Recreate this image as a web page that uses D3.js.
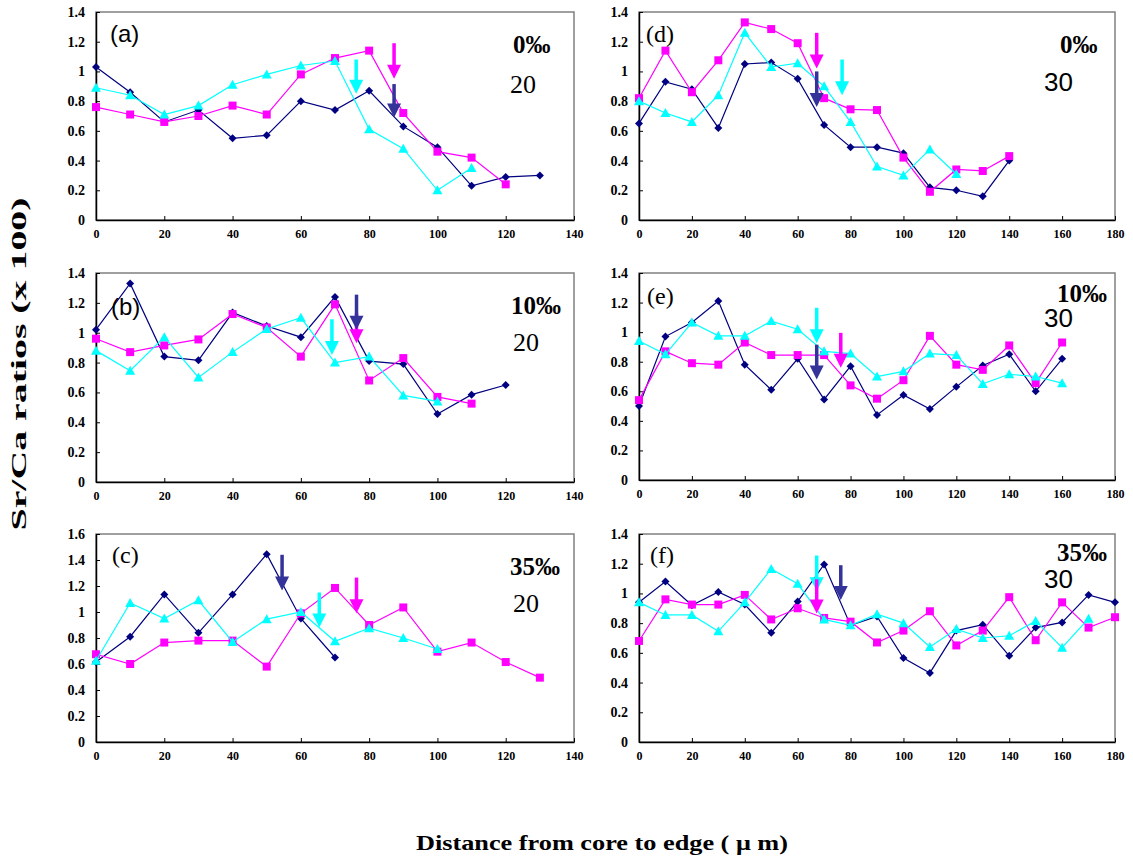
<!DOCTYPE html>
<html>
<head>
<meta charset="utf-8">
<script src="https://cdn.jsdelivr.net/npm/d3@7/dist/d3.min.js"></script>
<style>
  body { margin: 0; background: #fff; }
</style>
</head>
<body>
<script>
// distances along the otolith (um), shared by all panels
var distances = [0, 10, 20, 30, 40, 50, 60, 70, 80, 90, 100, 110, 120, 130, 140, 150, 160, 170, 180];
var xTicks140 = [0, 20, 40, 60, 80, 100, 120, 140];
var xTicks180 = [0, 20, 40, 60, 80, 100, 120, 140, 160, 180];
var yTicks14 = [0, 0.2, 0.4, 0.6, 0.8, 1, 1.2, 1.4];
var yTicks16 = [0, 0.2, 0.4, 0.6, 0.8, 1, 1.2, 1.4, 1.6];

// Sr/Ca (x100), three fish per panel
var aNavy    = [1.03, 0.86, 0.66, 0.74, 0.55, 0.57, 0.80, 0.74, 0.87, 0.63, 0.49, 0.23, 0.29, 0.30];
var aMagenta = [0.76, 0.71, 0.66, 0.70, 0.77, 0.71, 0.98, 1.09, 1.14, 0.72, 0.46, 0.42, 0.24];
var aCyan    = [0.89, 0.84, 0.71, 0.77, 0.91, 0.98, 1.04, 1.07, 0.61, 0.48, 0.20, 0.35];

var bNavy    = [1.02, 1.33, 0.84, 0.815, 1.135, 1.045, 0.97, 1.24, 0.81, 0.79, 0.455, 0.585, 0.65];
var bMagenta = [0.96, 0.87, 0.915, 0.955, 1.125, 1.035, 0.84, 1.19, 0.68, 0.83, 0.57, 0.525];
var bCyan    = [0.88, 0.745, 0.97, 0.70, 0.87, 1.025, 1.10, 0.80, 0.84, 0.58, 0.54];

var cNavy    = [0.615, 0.81, 1.135, 0.84, 1.135, 1.445, 0.95, 0.65];
var cMagenta = [0.675, 0.60, 0.765, 0.78, 0.78, 0.58, 0.99, 1.185, 0.90, 1.035, 0.695, 0.765, 0.615, 0.495];
var cCyan    = [0.625, 1.07, 0.95, 1.09, 0.77, 0.945, 1.0, 0.775, 0.875, 0.80, 0.715];

var dNavy    = [0.65, 0.93, 0.88, 0.62, 1.05, 1.06, 0.95, 0.64, 0.49, 0.49, 0.45, 0.22, 0.20, 0.16, 0.40];
var dMagenta = [0.82, 1.14, 0.86, 1.075, 1.33, 1.285, 1.19, 0.82, 0.745, 0.74, 0.42, 0.19, 0.34, 0.33, 0.43];
var dCyan    = [0.80, 0.72, 0.66, 0.84, 1.26, 1.03, 1.055, 0.90, 0.66, 0.36, 0.30, 0.475, 0.31];

var eNavy    = [0.50, 0.97, 1.065, 1.21, 0.78, 0.61, 0.82, 0.545, 0.77, 0.44, 0.575, 0.48, 0.63, 0.775, 0.85, 0.60, 0.82];
var eMagenta = [0.54, 0.87, 0.79, 0.78, 0.93, 0.845, 0.845, 0.845, 0.64, 0.55, 0.675, 0.975, 0.78, 0.745, 0.91, 0.655, 0.93];
var eCyan    = [0.94, 0.85, 1.065, 0.975, 0.975, 1.075, 1.02, 0.87, 0.855, 0.70, 0.735, 0.855, 0.845, 0.65, 0.715, 0.70, 0.655];

var fNavy    = [0.94, 1.08, 0.92, 1.01, 0.925, 0.735, 0.945, 1.195, 0.785, 0.845, 0.565, 0.465, 0.75, 0.79, 0.58, 0.77, 0.805, 0.99, 0.94];
var fMagenta = [0.68, 0.96, 0.925, 0.925, 0.99, 0.825, 0.90, 0.835, 0.81, 0.67, 0.75, 0.88, 0.65, 0.75, 0.975, 0.685, 0.94, 0.77, 0.84];
var fCyan    = [0.94, 0.855, 0.855, 0.745, 0.94, 1.165, 1.065, 0.825, 0.785, 0.86, 0.80, 0.64, 0.76, 0.70, 0.715, 0.815, 0.635, 0.83];

// arrows: [fish, distance, value at tail, value at tip]
var aArrows = [['cyan', 76.2, 1.08, 0.85], ['magenta', 87.3, 1.19, 0.95], ['navy', 87.3, 0.915, 0.69]];
var bArrows = [['cyan', 69.1, 1.09, 0.85], ['magenta', 76.3, 1.13, 0.93], ['navy', 76.3, 1.255, 1.02]];
var cArrows = [['navy', 54.5, 1.44, 1.165], ['cyan', 65.4, 1.15, 0.88], ['magenta', 76.3, 1.265, 0.99]];
var dArrows = [['magenta', 67.2, 1.26, 1.02], ['navy', 67.2, 1.0, 0.76], ['cyan', 76.8, 1.08, 0.84]];
var eArrows = [['cyan', 67.2, 1.165, 0.925], ['navy', 67.2, 0.915, 0.68], ['magenta', 76.3, 0.995, 0.76]];
var fArrows = [['cyan', 67.2, 1.255, 1.015], ['magenta', 67.2, 1.095, 0.865], ['navy', 76.3, 1.19, 0.955]];

var lineColor  = { navy: '#000080', magenta: '#ff00ff', cyan: '#00ffff' };
var arrowColor = { navy: '#333399', magenta: '#ff00ff', cyan: '#00ffff' };
var serif = '"Liberation Serif", "Times New Roman", serif';
var sans = '"Liberation Sans", Arial, sans-serif';

var panels = [
  { left: 96, right: 574, top: 12, bottom: 220, xTicks: xTicks140, yTicks: yTicks14,
    navy: aNavy, magenta: aMagenta, cyan: aCyan, arrows: aArrows,
    letter: '(a)', letterFont: sans, letterPos: [110, 42],
    sal: '0‰', salPos: [513, 53], days: '20', daysFont: serif, daysPos: [510, 93] },
  { left: 96, right: 574, top: 273, bottom: 482, xTicks: xTicks140, yTicks: yTicks14,
    navy: bNavy, magenta: bMagenta, cyan: bCyan, arrows: bArrows,
    letter: '(b)', letterFont: sans, letterPos: [111, 315],
    sal: '10‰', salPos: [511, 314], days: '20', daysFont: serif, daysPos: [513, 351] },
  { left: 96, right: 574, top: 534, bottom: 742, xTicks: xTicks140, yTicks: yTicks16,
    navy: cNavy, magenta: cMagenta, cyan: cCyan, arrows: cArrows,
    letter: '(c)', letterFont: serif, letterPos: [112, 563],
    sal: '35‰', salPos: [510, 575], days: '20', daysFont: serif, daysPos: [513, 612] },
  { left: 639, right: 1115, top: 12, bottom: 220, xTicks: xTicks180, yTicks: yTicks14,
    navy: dNavy, magenta: dMagenta, cyan: dCyan, arrows: dArrows,
    letter: '(d)', letterFont: serif, letterPos: [646, 42],
    sal: '0‰', salPos: [1060, 53], days: '30', daysFont: sans, daysPos: [1044, 91] },
  { left: 639, right: 1115, top: 273, bottom: 480, xTicks: xTicks180, yTicks: yTicks14,
    navy: eNavy, magenta: eMagenta, cyan: eCyan, arrows: eArrows,
    letter: '(e)', letterFont: serif, letterPos: [647, 304],
    sal: '10‰', salPos: [1057, 302], days: '30', daysFont: sans, daysPos: [1044, 327] },
  { left: 639, right: 1115, top: 534, bottom: 742, xTicks: xTicks180, yTicks: yTicks14,
    navy: fNavy, magenta: fMagenta, cyan: fCyan, arrows: fArrows,
    letter: '(f)', letterFont: serif, letterPos: [650, 563],
    sal: '35‰', salPos: [1057, 561], days: '30', daysFont: sans, daysPos: [1044, 588] }
];

var svg = d3.select('body').append('svg')
  .attr('width', 1133)
  .attr('height', 861);

var markers = {
  navy: 'M0,-4L4,0L0,4L-4,0Z',
  magenta: 'M-4,-4H4V4H-4Z',
  cyan: 'M0,-5L5,4H-5Z'
};

panels.forEach(function(p) {
  var xMax = p.xTicks[p.xTicks.length - 1];
  var yMax = p.yTicks[p.yTicks.length - 1];
  var x = d3.scaleLinear().domain([0, xMax]).range([p.left, p.right]);
  var y = d3.scaleLinear().domain([0, yMax]).range([p.bottom, p.top]);

  svg.append('rect')
    .attr('x', p.left).attr('y', p.top)
    .attr('width', p.right - p.left).attr('height', p.bottom - p.top)
    .attr('fill', 'none').attr('stroke', '#808080').attr('stroke-width', 1.5);

  var xAxis = svg.append('g')
    .attr('transform', 'translate(0,' + p.bottom + ')')
    .call(d3.axisBottom(x).tickValues(p.xTicks).tickSizeInner(-4).tickSizeOuter(0).tickPadding(9));
  var yAxis = svg.append('g')
    .attr('transform', 'translate(' + p.left + ',0)')
    .call(d3.axisLeft(y).tickValues(p.yTicks).tickSizeInner(-4).tickSizeOuter(0).tickPadding(11)
      .tickFormat(function(d) { return String(+d.toFixed(1)); }));

  [xAxis, yAxis].forEach(function(g) {
    g.select('.domain').attr('stroke', '#000').attr('stroke-width', 1.5);
    g.selectAll('.tick line').attr('stroke', '#000');
    g.selectAll('text').attr('fill', '#000')
      .style('font-family', serif).style('font-weight', 'bold');
  });
  xAxis.selectAll('text').style('font-size', '12px');
  yAxis.selectAll('text').style('font-size', '14px');

  ['navy', 'magenta', 'cyan'].forEach(function(fish) {
    var vals = p[fish];
    var pts = vals.map(function(v, i) { return [distances[i], v]; });
    svg.append('path')
      .datum(pts)
      .attr('fill', 'none')
      .attr('stroke', lineColor[fish])
      .attr('stroke-width', 1.2)
      .attr('d', d3.line().x(function(d) { return x(d[0]); }).y(function(d) { return y(d[1]); }));
    svg.selectAll(null)
      .data(pts)
      .enter().append('path')
      .attr('d', markers[fish])
      .attr('fill', lineColor[fish])
      .attr('transform', function(d) { return 'translate(' + x(d[0]) + ',' + y(d[1]) + ')'; });
  });

  // arrows marking the check
  p.arrows.forEach(function(a) {
    var ax = x(a[1]), y1 = y(a[2]), y2 = y(a[3]);
    var head = 14;
    svg.append('rect')
      .attr('x', ax - 1.75).attr('y', y1)
      .attr('width', 3.5).attr('height', Math.max(0, y2 - head - y1 + 1))
      .attr('fill', arrowColor[a[0]]);
    svg.append('path')
      .attr('d', 'M' + (ax - 7) + ',' + (y2 - head) + 'L' + (ax + 7) + ',' + (y2 - head) + 'L' + ax + ',' + y2 + 'Z')
      .attr('fill', arrowColor[a[0]]);
  });

  svg.append('text')
    .attr('x', p.letterPos[0]).attr('y', p.letterPos[1])
    .style('font-family', p.letterFont).style('font-size', '24px')
    .text(p.letter);
  svg.append('text')
    .attr('x', p.salPos[0]).attr('y', p.salPos[1])
    .style('font-family', serif).style('font-size', '25px').style('font-weight', 'bold')
    .text(p.sal);
  svg.append('text')
    .attr('x', p.daysPos[0]).attr('y', p.daysPos[1])
    .style('font-family', p.daysFont).style('font-size', '26px')
    .text(p.days);
});

svg.append('text')
  .attr('transform', 'translate(26,364) rotate(-90)')
  .attr('text-anchor', 'middle')
  .attr('textLength', 333)
  .attr('lengthAdjust', 'spacingAndGlyphs')
  .style('font-family', serif).style('font-size', '21px').style('font-weight', 'bold')
  .text('Sr/Ca ratios (x 100)');

svg.append('text')
  .attr('x', 602).attr('y', 850)
  .attr('text-anchor', 'middle')
  .attr('textLength', 372)
  .attr('lengthAdjust', 'spacingAndGlyphs')
  .style('font-family', serif).style('font-size', '21px').style('font-weight', 'bold')
  .text('Distance from core to edge ( μ m)');
</script>
</body>
</html>
